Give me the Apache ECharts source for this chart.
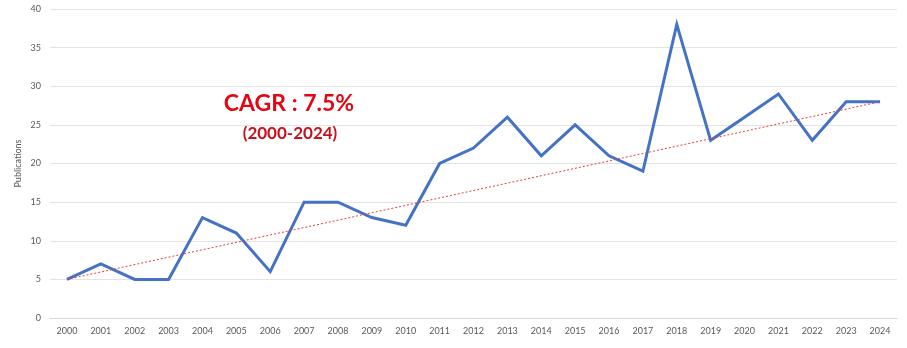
<!DOCTYPE html>
<html>
<head>
<meta charset="utf-8">
<script src="https://cdn.jsdelivr.net/npm/echarts@6/dist/echarts.min.js"></script>
<style>html,body{margin:0;padding:0;background:#fff}#c{width:907px;height:348px}</style>
</head>
<body>
<div id="c"></div>
<script>
const years = ['2000','2001','2002','2003','2004','2005','2006','2007','2008','2009','2010','2011','2012','2013','2014','2015','2016','2017','2018','2019','2020','2021','2022','2023','2024'];
const publications = [5,7,5,5,13,11,6,15,15,13,12,20,22,26,21,25,21,19,38,23,26,29,23,28,28];
const trendStart = ['2000', 5];
const trendEnd = ['2024', 28];
const yTicks = {min: 0, max: 40, interval: 5};

const chart = echarts.init(document.getElementById('c'), null, {renderer: 'canvas'});
const font = 'Lato, "Open Sans", sans-serif';
chart.setOption({
  animation: false,
  backgroundColor: '#fff',
  grid: {left: 50, right: 10, top: 9, bottom: 30},
  xAxis: {
    type: 'category', data: years, boundaryGap: true,
    axisLine: {lineStyle: {color: '#d9d9d9'}},
    axisTick: {show: false},
    axisLabel: {color: '#595959', fontSize: 9, fontFamily: font, margin: 9, interval: 0}
  },
  yAxis: {
    type: 'value', min: yTicks.min, max: yTicks.max, interval: yTicks.interval,
    name: 'Publications', nameLocation: 'middle', nameGap: 27, nameRotate: 90,
    nameMoveOverlap: false,
    nameTextStyle: {color: '#595959', fontSize: 9, fontFamily: font},
    axisLine: {show: false}, axisTick: {show: false},
    axisLabel: {color: '#595959', fontSize: 9, fontFamily: font, margin: 9},
    splitLine: {lineStyle: {color: '#e3e3e3'}}
  },
  series: [{
    type: 'line', data: publications, symbol: 'none',
    lineStyle: {color: '#4472c4', width: 3, join: 'miter'},
    itemStyle: {color: '#4472c4'},
    markLine: {
      silent: true, symbol: 'none', label: {show: false},
      lineStyle: {color: '#e0403a', type: [2, 2], width: 1},
      data: [[{coord: trendStart}, {coord: trendEnd}]]
    }
  }],
  graphic: [
    {type: 'text', x: 289, y: 104, style: {text: 'CAGR : 7.5%', fill: '#e30613', font: 'bold 23px ' + font, align: 'center', verticalAlign: 'middle'}},
    {type: 'text', x: 290, y: 134, style: {text: '(2000-2024)', fill: '#c8101e', font: 'bold 17px ' + font, align: 'center', verticalAlign: 'middle'}}
  ]
});
</script>
</body>
</html>
